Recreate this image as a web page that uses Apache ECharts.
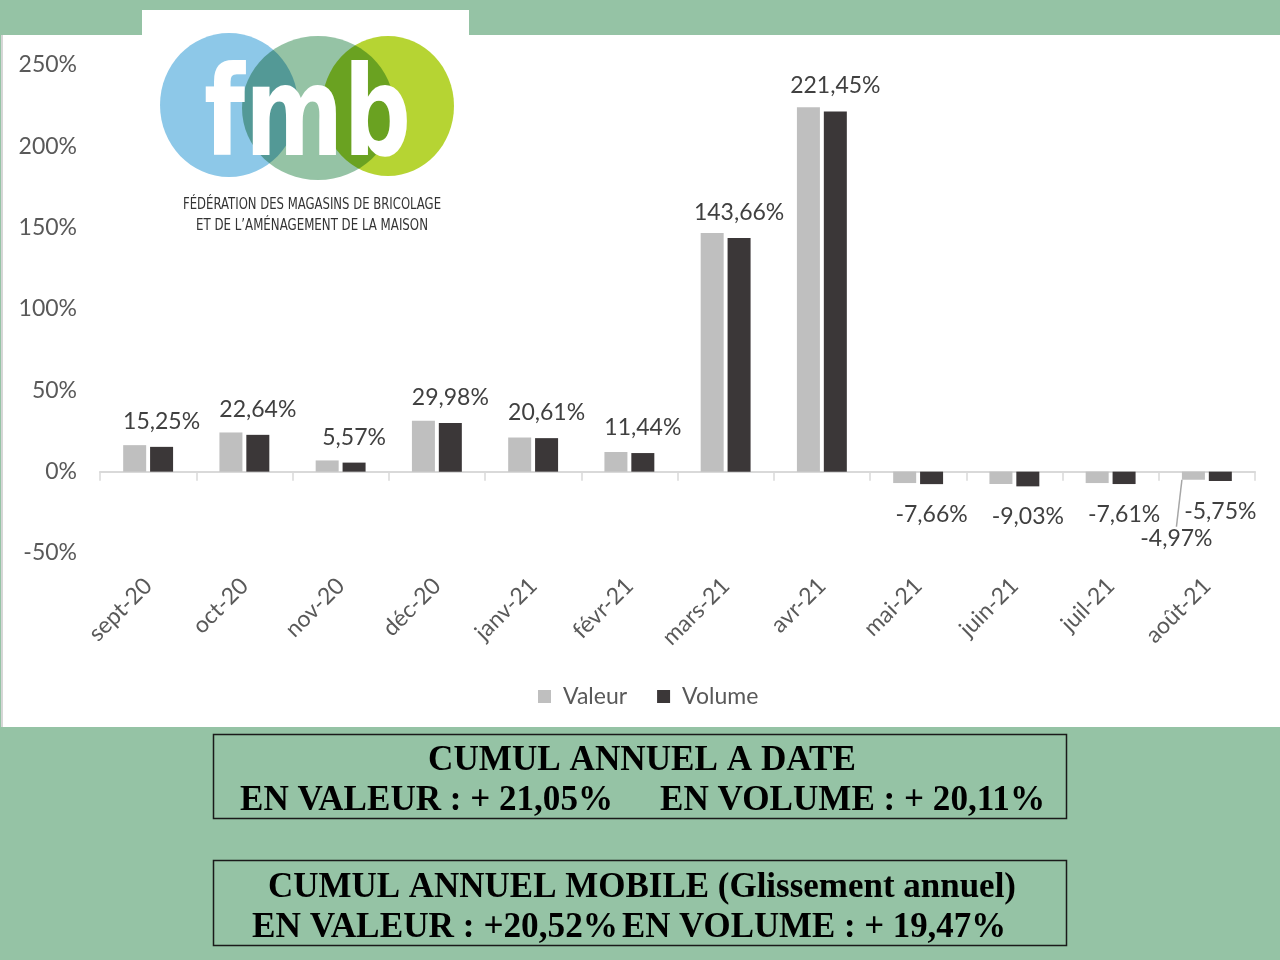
<!DOCTYPE html>
<html>
<head>
<meta charset="utf-8">
<script src="https://cdn.jsdelivr.net/npm/echarts@6/dist/echarts.min.js"></script>
<style>
html,body{margin:0;padding:0;background:#95C3A5;}
#chart{position:absolute;left:0;top:0;width:1280px;height:960px;}
</style>
</head>
<body>
<div id="chart"></div>
<script>
// ---- data ----
const categories = ['sept-20','oct-20','nov-20','déc-20','janv-21','févr-21','mars-21','avr-21','mai-21','juin-21','juil-21','août-21'];
const valeur = [16.3, 24.1, 6.9, 31.3, 21.0, 12.1, 146.7, 224.1, -7.0, -7.6, -7.0, -4.97];
const volume = [15.25, 22.64, 5.57, 29.98, 20.61, 11.44, 143.66, 221.45, -7.66, -9.03, -7.61, -5.75];
const seriesNames = ['Valeur', 'Volume'];
const yTicks = {min: -50, max: 250, interval: 50};
const cumulTitle1 = 'CUMUL ANNUEL A DATE';
const cumulValeur1 = 'EN VALEUR : + 21,05%';
const cumulVolume1 = 'EN VOLUME : + 20,11%';
const cumulTitle2 = 'CUMUL ANNUEL MOBILE (Glissement annuel)';
const cumulValeur2 = 'EN VALEUR : +20,52%';
const cumulVolume2 = 'EN VOLUME : + 19,47%';
const logoLine1 = 'FÉDÉRATION DES MAGASINS DE BRICOLAGE';
const logoLine2 = 'ET DE L’AMÉNAGEMENT DE LA MAISON';

const fmt = v => v.toFixed(2).replace('.', ',') + '%';

const mctx = document.createElement('canvas').getContext('2d');
function fitText(str, font, left, right, cy, color, z, scaleY) {
  mctx.font = font;
  const w = mctx.measureText(str).width;
  const sx = (right - left) / w;
  return {
    type: 'text', x: left, y: cy, scaleX: sx, scaleY: scaleY || 1, z: z || 10,
    style: {text: str, font: font, fill: color, align: 'left', verticalAlign: 'middle',
            textAlign: 'left', textVerticalAlign: 'middle'}
  };
}

const serif = 'bold 36px "Liberation Serif"';
const graphics = [
  {type: 'rect', z: -10, shape: {x: 2, y: 35, width: 1278, height: 692}, style: {fill: '#ffffff'}},
  {type: 'rect', z: -9, shape: {x: 1, y: 35, width: 2, height: 692}, style: {fill: '#d6d6d6'}},
  // logo
  {type: 'rect', z: 20, shape: {x: 142, y: 10, width: 327, height: 245}, style: {fill: '#ffffff'}},
  {type: 'ellipse', z: 21, shape: {cx: 229, cy: 105, rx: 69, ry: 72}, style: {fill: '#8DC8E8'}},
  {type: 'ellipse', z: 22, shape: {cx: 318, cy: 108, rx: 76, ry: 72}, style: {fill: '#95C3A5', blend: 'multiply'}},
  {type: 'ellipse', z: 23, shape: {cx: 388, cy: 106, rx: 66, ry: 70}, style: {fill: '#B6D433', blend: 'multiply'}},
  fitText('fmb', 'bold 100px "DejaVu Sans"', 204, 411, 123, '#ffffff', 30, 1.24),
  fitText(logoLine1, '16px "DejaVu Sans"', 183, 441, 205, '#333333', 30),
  fitText(logoLine2, '16px "DejaVu Sans"', 196, 428, 226, '#333333', 30),
  // bottom boxes
  {type: 'rect', z: 5, shape: {x: 213.5, y: 734.5, width: 853, height: 84}, style: {fill: 'none', stroke: '#1a1a1a', lineWidth: 1.5}},
  {type: 'rect', z: 5, shape: {x: 213.5, y: 860.5, width: 853, height: 85}, style: {fill: 'none', stroke: '#1a1a1a', lineWidth: 1.5}},
  fitText(cumulTitle1, serif, 428, 856, 761, '#000000', 10),
  fitText(cumulValeur1, serif, 240, 613, 801, '#000000', 10),
  fitText(cumulVolume1, serif, 660, 1045, 801, '#000000', 10),
  fitText(cumulTitle2, serif, 268, 1016, 888, '#000000', 10),
  fitText(cumulValeur2, serif, 252, 618, 928, '#000000', 10),
  fitText(cumulVolume2, serif, 622, 1006, 928, '#000000', 10)
];

const labelFont = {fontFamily: 'Lato', fontSize: 23, color: '#404040'};

const volumeData = volume.map(v => ({
  value: v,
  label: {position: v >= 0 ? 'top' : 'bottom', distance: v >= 0 ? 14 : 19}
}));
const valeurData = valeur.map((v, i) => (i === categories.length - 1 ? {
  value: v,
  label: {show: true, position: 'bottom', distance: 19},
  labelLine: {show: true, lineStyle: {color: '#a6a6a6', width: 1.5}}
} : {value: v}));

const chart = echarts.init(document.getElementById('chart'), null, {renderer: 'canvas'});
chart.setOption({
  backgroundColor: 'transparent',
  animation: false,
  graphic: {elements: graphics},
  legend: {
    data: seriesNames, left: 533, top: 680, itemWidth: 13, itemHeight: 13, itemGap: 30,
    icon: 'rect',
    textStyle: {fontFamily: 'Lato', fontSize: 23, color: '#595959', padding: [0, 0, 0, 7]}
  },
  grid: {left: 100, right: 25, top: 65, bottom: 407, containLabel: false},
  xAxis: [
    {
      type: 'category', data: categories, position: 'bottom',
      axisLine: {show: false, onZero: false}, axisTick: {show: false},
      axisLabel: {rotate: 45, margin: 29, fontFamily: 'Lato', fontSize: 23, color: '#595959', interval: 0}
    },
    {
      type: 'category', data: categories, position: 'top',
      axisLine: {show: true, onZero: true, lineStyle: {color: '#d9d9d9', width: 2}},
      axisTick: {show: true, inside: true, length: 9, lineStyle: {color: '#d9d9d9', width: 1.5}},
      axisLabel: {show: false}
    }
  ],
  yAxis: {
    type: 'value', min: yTicks.min, max: yTicks.max, interval: yTicks.interval,
    axisLine: {show: false}, axisTick: {show: false}, splitLine: {show: false},
    axisLabel: {formatter: '{value}%', margin: 23, fontFamily: 'Lato', fontSize: 23, color: '#595959'}
  },
  series: [
    {
      name: seriesNames[0], type: 'bar', xAxisIndex: 0, data: valeurData,
      barWidth: 23, barGap: '17%',
      itemStyle: {color: '#BFBFBF'},
      label: Object.assign({show: false, formatter: p => fmt(p.value)}, labelFont),
      labelLayout: p => (p.dataIndex === categories.length - 1 ? {dx: -17, dy: 28} : null)
    },
    {
      name: seriesNames[1], type: 'bar', xAxisIndex: 0, data: volumeData,
      barWidth: 23, barGap: '17%',
      itemStyle: {color: '#3B3738'},
      label: Object.assign({show: true, formatter: p => fmt(p.value)}, labelFont)
    }
  ]
});
</script>
</body>
</html>
